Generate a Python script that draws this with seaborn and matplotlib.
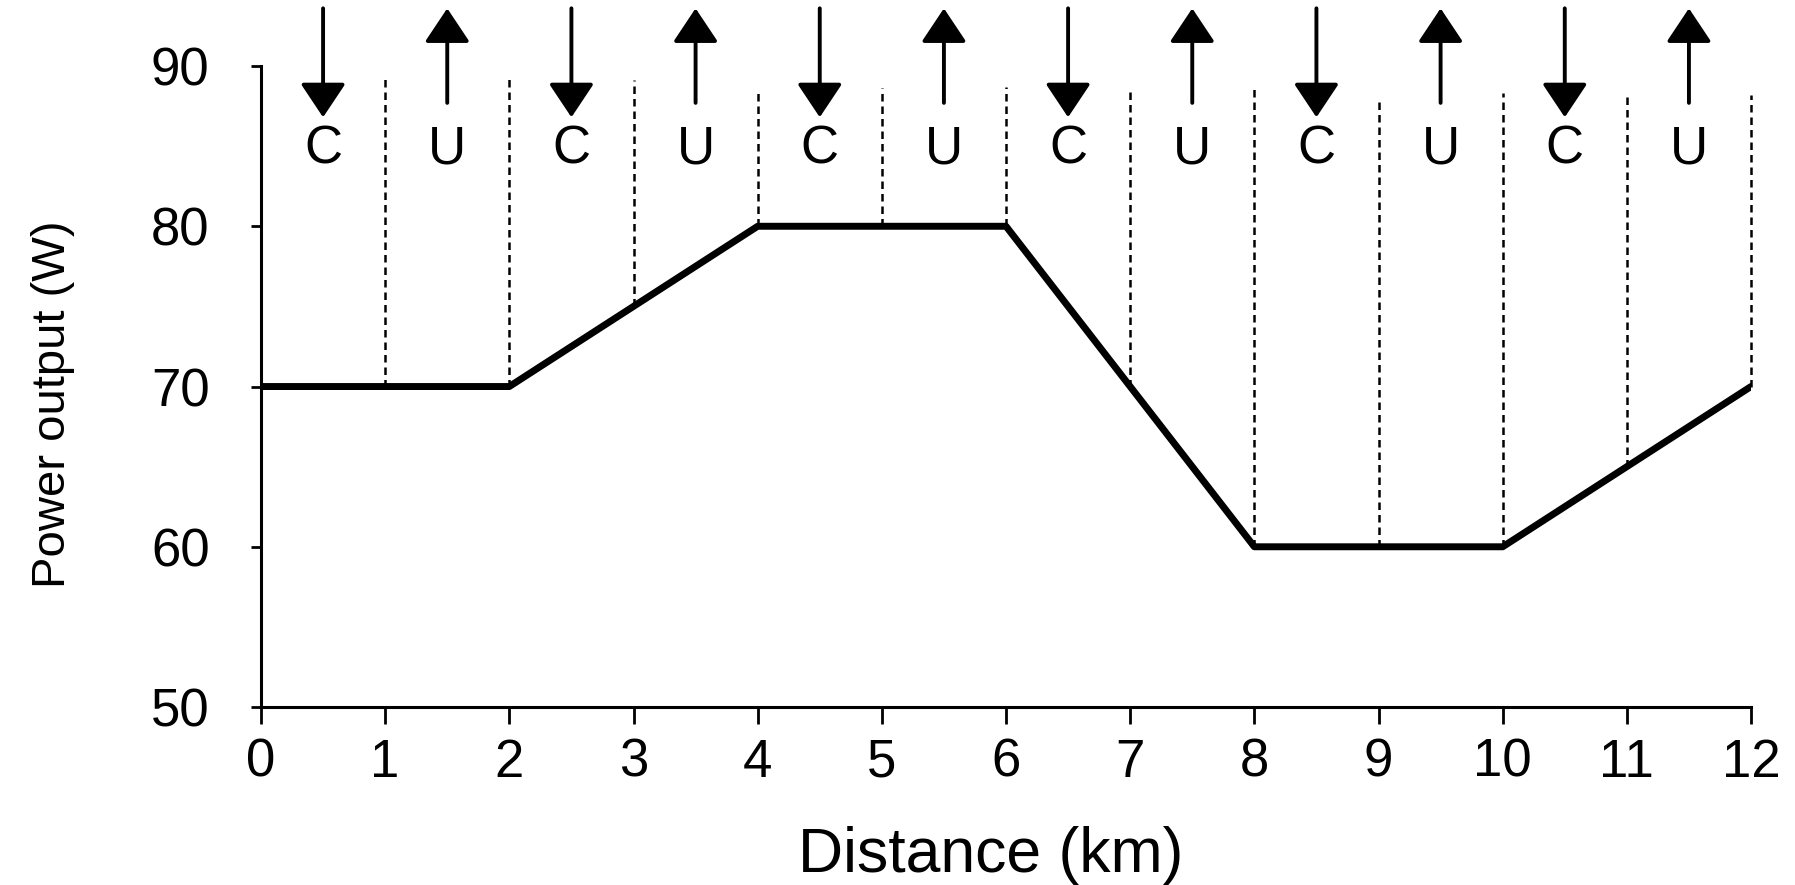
import numpy as np
import pandas as pd
import matplotlib
matplotlib.use('Agg')
import matplotlib.pyplot as plt
import seaborn as sns

# power profile over the 12 km course
distance = [0, 2, 4, 6, 8, 10, 12]
power = [70, 70, 80, 80, 60, 60, 70]

# km boundaries between segments (dashed lines): bottom on the curve, top
boundary_km = [1, 2, 3, 4, 5, 6, 7, 8, 9, 10, 11, 12]
boundary_bottom = [70, 70, 75, 80, 80, 80, 70, 60, 60, 60, 65, 70]
boundary_top = [89.4, 89.2, 89.1, 88.3, 88.6, 88.7, 88.5, 88.6, 87.9, 88.3, 88.3, 88.2]

# segment labels: C (arrow down) / U (arrow up)
segment_labels = ['C', 'U', 'C', 'U', 'C', 'U', 'C', 'U', 'C', 'U', 'C', 'U']
segment_mid = [0.5, 1.5, 2.5, 3.5, 4.5, 5.5, 6.5, 7.5, 8.5, 9.5, 10.5, 11.5]

x_ticks = list(range(0, 13))
y_ticks = [50, 60, 70, 80, 90]

sns.set_style('ticks', {'axes.edgecolor': 'black', 'text.color': 'black',
                        'xtick.color': 'black', 'ytick.color': 'black',
                        'axes.labelcolor': 'black'})
plt.rcParams['font.family'] = ['Liberation Sans', 'DejaVu Sans']

fig = plt.figure(figsize=(17.95, 8.85), dpi=100)
ax = fig.add_axes([0.1454, 0.2011, 0.8301, 0.7243])

df = pd.DataFrame({'distance': distance, 'power': power})
sns.lineplot(data=df, x='distance', y='power', ax=ax, color='black', lw=5)

ax.vlines(boundary_km, boundary_bottom, boundary_top, colors='black',
          linestyles=(0, (3.0, 2.0)), lw=1.8, clip_on=False)

arrow_high, arrow_low = 93.6, 86.8
for xm, lab in zip(segment_mid, segment_labels):
    if lab == 'C':
        tip, tail = arrow_low, arrow_high
    else:
        tip, tail = arrow_high, arrow_low + 0.9
    ax.annotate('', xy=(xm, tip), xytext=(xm, tail), annotation_clip=False,
                arrowprops=dict(arrowstyle='-|>,head_length=1.05,head_width=0.7',
                                mutation_scale=20, lw=2.8, color='black',
                                shrinkA=0, shrinkB=0))
    ax.text(xm, 84.8, lab, ha='center', va='center', fontsize=38, color='black')

ax.set_xlim(0, 12)
ax.set_ylim(50, 90)
ax.set_xticks(x_ticks)
ax.set_yticks(y_ticks)
ax.tick_params(axis='x', length=12, width=2, pad=10, labelsize=38, colors='black')
ax.tick_params(axis='y', length=7, width=2, pad=30, labelsize=38, colors='black')
for s in ['left', 'bottom']:
    ax.spines[s].set_linewidth(2.2)
    ax.spines[s].set_color('black')
sns.despine(ax=ax)

ax.set_xlabel('Distance (km)', fontsize=45, color='black')
ax.set_ylabel('Power output (W)', fontsize=34, color='black')
ax.xaxis.set_label_coords(0.49, -0.185)
ax.yaxis.set_label_coords(-0.125, 0.473)

fig.savefig('out.png', dpi=100, facecolor='white')
